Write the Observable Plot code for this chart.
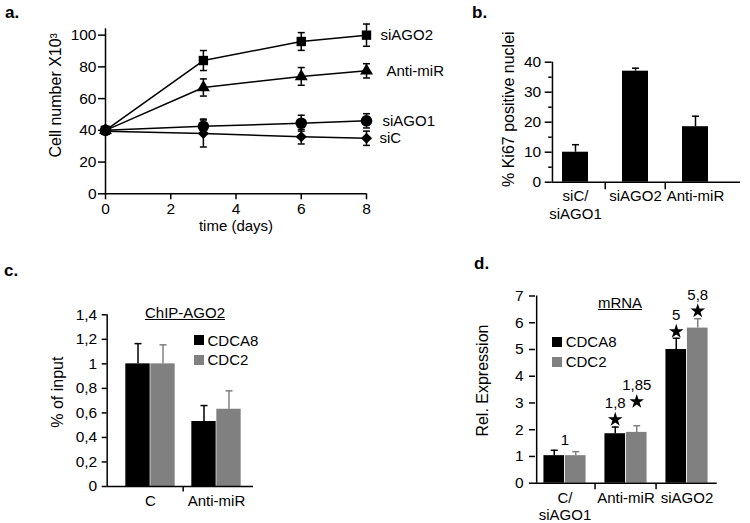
<!DOCTYPE html>
<html><head><meta charset="utf-8">
<script src="https://cdn.jsdelivr.net/npm/d3@7"></script>
<script src="https://cdn.jsdelivr.net/npm/@observablehq/plot@0.6"></script>
<style>
body{margin:0;background:#fff;}
#root{position:relative;width:750px;height:523px;overflow:hidden;background:#fff;font-family:"Liberation Sans",Arial,Helvetica,sans-serif;color:#000;}
.tag{position:absolute;font-weight:bold;font-size:17px;line-height:17px;}
.lg{position:absolute;height:20px;display:flex;align-items:center;font-size:15px;white-space:nowrap;}
.sw{display:inline-block;width:10px;height:10px;margin-right:4px;}
.ttl{position:absolute;font-size:15px;line-height:18px;text-decoration:underline;transform:translateX(-50%);white-space:nowrap;}
</style></head><body><div id="root"></div>
<script>
// ---------- data ----------
// a. growth curves
const days = [0, 3, 6, 8];
const dayTicks = [0, 2, 4, 6, 8];
const cellTicks = [0, 20, 40, 60, 80, 100];
const growthSeries = ["siAGO2", "Anti-miR", "siAGO1", "siC"];
const siAGO2Cells = [40, 84, 96, 100];
const siAGO2Err = [0, 6.3, 5.6, 7];
const antiMiRCells = [40, 67, 74, 77.5];
const antiMiRErr = [0, 5.4, 5.6, 4.5];
const siAGO1Cells = [40, 42.5, 44.5, 46];
const siAGO1Err = [0, 4.6, 5, 4.5];
const siCCells = [39.5, 38, 36, 35];
const siCErr = [0, 8.5, 4.6, 4.5];

// b. Ki67
const ki67Cats = ["siC/\nsiAGO1", "siAGO2", "Anti-miR"];
const ki67Values = [10, 37, 18.5];
const ki67Err = [2.5, 1, 3.5];
const ki67Ticks = [0, 10, 20, 30, 40];
const ki67MinorTicks = [5, 15, 25, 35];

// c. ChIP-AGO2
const genes = ["CDCA8", "CDC2"];
const chipCats = ["C", "Anti-miR"];
const chipCDCA8 = [1.0, 0.53];
const chipCDCA8Err = [0.165, 0.13];
const chipCDC2 = [1.0, 0.63];
const chipCDC2Err = [0.155, 0.15];
const chipTicks = [0, 0.2, 0.4, 0.6, 0.8, 1, 1.2, 1.4];

// d. mRNA
const mrnaCats = ["C/\nsiAGO1", "Anti-miR", "siAGO2"];
const mrnaCDCA8 = [1.03, 1.85, 5.0];
const mrnaCDCA8Err = [0.2, 0.25, 0.42];
const mrnaCDC2 = [1.03, 1.9, 5.8];
const mrnaCDC2Err = [0.15, 0.25, 0.35];
const mrnaTicks = [0, 1, 2, 3, 4, 5, 6, 7];
const annCats = ["C/\nsiAGO1", "Anti-miR", "Anti-miR", "siAGO2", "siAGO2"];
const annGenes = ["", "CDCA8", "CDC2", "CDCA8", "CDC2"];
const annText = ["1", "1,8", "1,85", "5", "5,8"];
const annStar = [false, true, true, true, true];
const annLevel = [1.6, 2.38, 3.05, 5.67, 6.44];

// ---------- helpers ----------
const root = document.getElementById("root");
const FONT = '"Liberation Sans", Arial, Helvetica, sans-serif';
const baseStyle = {fontFamily: FONT, fontSize: "15px", background: "transparent", color: "black", overflow: "visible"};
const geneColor = {CDCA8: "black", CDC2: "#808080"};
const cap = (w) => ({draw(ctx) { ctx.moveTo(-w, 0); ctx.lineTo(w, 0); }});
const sep = (len) => ({draw(ctx) { ctx.moveTo(0, 0); ctx.lineTo(0, len); }});
const comma = (d) => String(d).replace(".", ",");
function place(el, left, top) {
  el.style.position = "absolute"; el.style.left = left + "px"; el.style.top = top + "px";
  root.appendChild(el);
}
function addTag(t, left, top) {
  const d = document.createElement("div"); d.className = "tag"; d.textContent = t;
  d.style.left = left + "px"; d.style.top = top + "px"; root.appendChild(d);
}
function addLegend(x, centers) {
  genes.forEach((g, i) => {
    const d = document.createElement("div"); d.className = "lg";
    d.style.left = x + "px"; d.style.top = (centers[i] - 10) + "px";
    d.innerHTML = `<span class="sw" style="background:${geneColor[g]}"></span>${g}`;
    root.appendChild(d);
  });
}
function addTitle(t, cx, cy) {
  const d = document.createElement("div"); d.className = "ttl"; d.textContent = t;
  d.style.left = cx + "px"; d.style.top = (cy - 9) + "px"; root.appendChild(d);
}
function yTitle(t, dx, dy) {
  return Plot.text([t], {text: d => d, frameAnchor: "left", textAnchor: "middle", lineAnchor: "middle", dx, dy, rotate: -90, fontSize: 16});
}

// ---------- a ----------
const seriesVals = [siAGO2Cells, antiMiRCells, siAGO1Cells, siCCells];
const seriesErr = [siAGO2Err, antiMiRErr, siAGO1Err, siCErr];
const growth = [];
growthSeries.forEach((s, i) => days.forEach((d, j) => growth.push({series: s, day: d, cells: seriesVals[i][j], err: seriesErr[i][j]})));
const symbols = {"siAGO2": "square", "Anti-miR": "triangle", "siAGO1": "circle", "siC": "diamond2"};
const symR = {"siAGO2": 5.3, "Anti-miR": 4.8, "siAGO1": 5.8, "siC": 5.0};
const labelDx = {"siAGO2": 14, "Anti-miR": 20, "siAGO1": 16, "siC": 13};
const withErr = growth.filter(d => d.err > 0);

const plotA = Plot.plot({
  width: 440, height: 250, marginLeft: 105, marginRight: 74, marginTop: 28.3, marginBottom: 56.7,
  style: baseStyle,
  x: {domain: [0, 8], label: null},
  y: {domain: [0, 104], label: null},
  marks: [
    Plot.ruleX([0], {strokeWidth: 1.5}),
    Plot.ruleY([0], {strokeWidth: 1.5}),
    Plot.axisX({ticks: dayTicks, tickSize: 6, tickPadding: 3, fontSize: 15.5, strokeWidth: 1.5, label: null}),
    Plot.axisY({ticks: cellTicks, tickSize: 7, tickPadding: 2, fontSize: 15.5, strokeWidth: 1.5, label: null}),
    Plot.line(growth, {x: "day", y: "cells", z: "series", stroke: "black", strokeWidth: 1.5}),
    Plot.ruleX(withErr, {x: "day", y1: d => d.cells - d.err, y2: d => d.cells + d.err, strokeWidth: 1.5}),
    Plot.dot(withErr, {x: "day", y: d => d.cells + d.err, symbol: cap(3.5), stroke: "black", fill: "none", strokeWidth: 1.5}),
    Plot.dot(withErr, {x: "day", y: d => d.cells - d.err, symbol: cap(3.5), stroke: "black", fill: "none", strokeWidth: 1.5}),
    ...growthSeries.map(s => Plot.dot(growth.filter(d => d.series === s), {x: "day", y: "cells", symbol: symbols[s], r: symR[s], fill: "black", stroke: "none"})),
    ...growthSeries.map(s => Plot.text(growth.filter(d => d.day === 8 && d.series === s), {x: "day", y: "cells", text: "series", dx: labelDx[s], textAnchor: "start", fontSize: 15})),
    Plot.text(["time (days)"], {text: d => d, frameAnchor: "bottom", dy: 37, fontSize: 15}),
    yTitle("Cell number X10³", -50, -16)
  ]
});
place(plotA, 0, 0);

// ---------- b ----------
const ki67 = ki67Cats.map((c, i) => ({cat: c, value: ki67Values[i], err: ki67Err[i]}));
const bLeft = 111.7, bBand = [104.5, 286];
const bStep = (bBand[1] - bBand[0]) / ki67Cats.length;
const plotB = Plot.plot({
  width: 310, height: 250, marginLeft: bLeft, marginRight: 10, marginTop: 61.7, marginBottom: 68.3,
  style: baseStyle,
  x: {domain: ki67Cats, range: bBand, padding: 0, label: null},
  y: {domain: [0, 40], label: null},
  marks: [
    Plot.barY(ki67, {x: "cat", y: "value", fill: "black", insetLeft: 17, insetRight: 17}),
    Plot.ruleX(ki67, {x: "cat", y1: "value", y2: d => d.value + d.err, strokeWidth: 1.5}),
    Plot.dot(ki67, {x: "cat", y: d => d.value + d.err, symbol: cap(3.5), stroke: "black", fill: "none", strokeWidth: 1.5}),
    Plot.ruleX([ki67Cats[0]], {x: d => d, dx: bLeft - (bBand[0] + bStep / 2), strokeWidth: 1.5}),
    Plot.ruleY([0], {strokeWidth: 1.5}),
    Plot.axisY({ticks: ki67Ticks, tickSize: 7, tickPadding: 4, fontSize: 15.5, strokeWidth: 1.5, label: null}),
    Plot.axisY({ticks: ki67MinorTicks, tickSize: 3.5, tickFormat: () => "", strokeWidth: 1.5, label: null}),
    Plot.axisX({tickSize: 0, tickPadding: 6, lineHeight: 1.2, fontSize: 15, label: null}),
    Plot.dot(ki67Cats.slice(1), {x: d => d, y: () => 0, dx: -bStep / 2, symbol: sep(7), stroke: "black", fill: "none", strokeWidth: 1.5}),
    yTitle("% Ki67 positive nuclei", -43, -13)
  ]
});
place(plotB, 440, 0);

// ---------- c ----------
const chip = [];
chipCats.forEach((c, i) => {
  chip.push({cat: c, gene: "CDCA8", value: chipCDCA8[i], err: chipCDCA8Err[i]});
  chip.push({cat: c, gene: "CDC2", value: chipCDC2[i], err: chipCDC2Err[i]});
});
function groupedMarks(data, step, w) {
  const marks = [];
  genes.forEach((g, gi) => {
    const rows = data.filter(d => d.gene === g);
    const half = step / 2;
    const inL = gi === 0 ? half - w : half, inR = gi === 0 ? half : half - w;
    const dx = gi === 0 ? -w / 2 : w / 2;
    marks.push(Plot.barY(rows, {x: "cat", y: "value", fill: geneColor[g], insetLeft: inL, insetRight: inR}));
    marks.push(Plot.ruleX(rows, {x: "cat", y1: "value", y2: d => d.value + d.err, dx, stroke: geneColor[g], strokeWidth: 1.5}));
    marks.push(Plot.dot(rows, {x: "cat", y: d => d.value + d.err, dx, symbol: cap(3.5), stroke: geneColor[g], fill: "none", strokeWidth: 1.5}));
  });
  return marks;
}
const cLeft = 106.7, cBand = [116.7, 250];
const cStep = (cBand[1] - cBand[0]) / chipCats.length;
const plotC = Plot.plot({
  width: 440, height: 273, marginLeft: cLeft, marginRight: 187, marginTop: 64.3, marginBottom: 37,
  style: baseStyle,
  x: {domain: chipCats, range: cBand, padding: 0, label: null},
  y: {domain: [0, 1.4], label: null},
  marks: [
    ...groupedMarks(chip, cStep, 25),
    Plot.ruleX([chipCats[0]], {x: d => d, dx: cLeft - (cBand[0] + cStep / 2), strokeWidth: 1.5}),
    Plot.ruleY([0], {strokeWidth: 1.5}),
    Plot.axisY({ticks: chipTicks, tickFormat: comma, tickSize: 5, tickPadding: 5, fontSize: 15.5, strokeWidth: 1.5, label: null}),
    Plot.axisX({tickSize: 0, tickPadding: 9, fontSize: 15, label: null}),
    Plot.dot(chipCats.slice(1), {x: d => d, y: () => 0, dx: -cStep / 2, symbol: sep(5), stroke: "black", fill: "none", strokeWidth: 1.5}),
    yTitle("% of input", -49, -8.5)
  ]
});
place(plotC, 0, 250);

// ---------- d ----------
const mrna = [];
mrnaCats.forEach((c, i) => {
  mrna.push({cat: c, gene: "CDCA8", value: mrnaCDCA8[i], err: mrnaCDCA8Err[i]});
  mrna.push({cat: c, gene: "CDC2", value: mrnaCDC2[i], err: mrnaCDC2Err[i]});
});
const ann = annText.map((t, i) => ({cat: annCats[i], gene: annGenes[i], text: t, star: annStar[i], level: annLevel[i]}));
const dLeft = 95, dBand = [92.4, 278], dW = 21.5;
const dStep = (dBand[1] - dBand[0]) / mrnaCats.length;
const geneDx = {"": 0, CDCA8: -dW / 2, CDC2: dW / 2};
const annMarks = [];
["", "CDCA8", "CDC2"].forEach(g => {
  const stars = ann.filter(d => d.star && d.gene === g);
  const plain = ann.filter(d => !d.star && d.gene === g);
  if (stars.length) {
    annMarks.push(Plot.dot(stars, {x: "cat", y: "level", dx: geneDx[g], symbol: "star", r: 4.6, fill: "black", stroke: "none"}));
    annMarks.push(Plot.text(stars, {x: "cat", y: "level", text: "text", dx: geneDx[g], dy: -16, textAnchor: "middle", fontSize: 15}));
  }
  if (plain.length) {
    annMarks.push(Plot.text(plain, {x: "cat", y: "level", text: "text", dx: geneDx[g], textAnchor: "middle", fontSize: 15}));
  }
});
const plotD = Plot.plot({
  width: 310, height: 273, marginLeft: dLeft, marginRight: 33.3, marginTop: 45.5, marginBottom: 40.3,
  style: baseStyle,
  x: {domain: mrnaCats, range: dBand, padding: 0, label: null},
  y: {domain: [0, 7], label: null},
  marks: [
    ...groupedMarks(mrna, dStep, dW),
    Plot.ruleX([mrnaCats[0]], {x: d => d, dx: dLeft - (dBand[0] + dStep / 2), strokeWidth: 1.5}),
    Plot.ruleY([0], {strokeWidth: 1.5}),
    Plot.axisY({ticks: mrnaTicks, tickFormat: d => String(d), tickSize: 6, tickPadding: 6, fontSize: 15.5, strokeWidth: 1.5, label: null}),
    Plot.axisX({tickSize: 0, tickPadding: 8, lineHeight: 1.13, fontSize: 15, label: null}),
    Plot.dot(mrnaCats.slice(1), {x: d => d, y: () => 0, dx: -dStep / 2, symbol: sep(6), stroke: "black", fill: "none", strokeWidth: 1.5}),
    ...annMarks,
    yTitle("Rel. Expression", -53, -9)
  ]
});
place(plotD, 440, 250);

// ---------- labels, titles, legends ----------
addTag("a.", 5, 4);
addTag("b.", 472, 3.5);
addTag("c.", 4, 262);
addTag("d.", 474, 255);
addTitle("ChIP-AGO2", 185, 313);
addTitle("mRNA", 620, 303);
addLegend(193.5, [340, 359.5]);
addLegend(551.7, [341.7, 361.7]);
</script></body></html>
